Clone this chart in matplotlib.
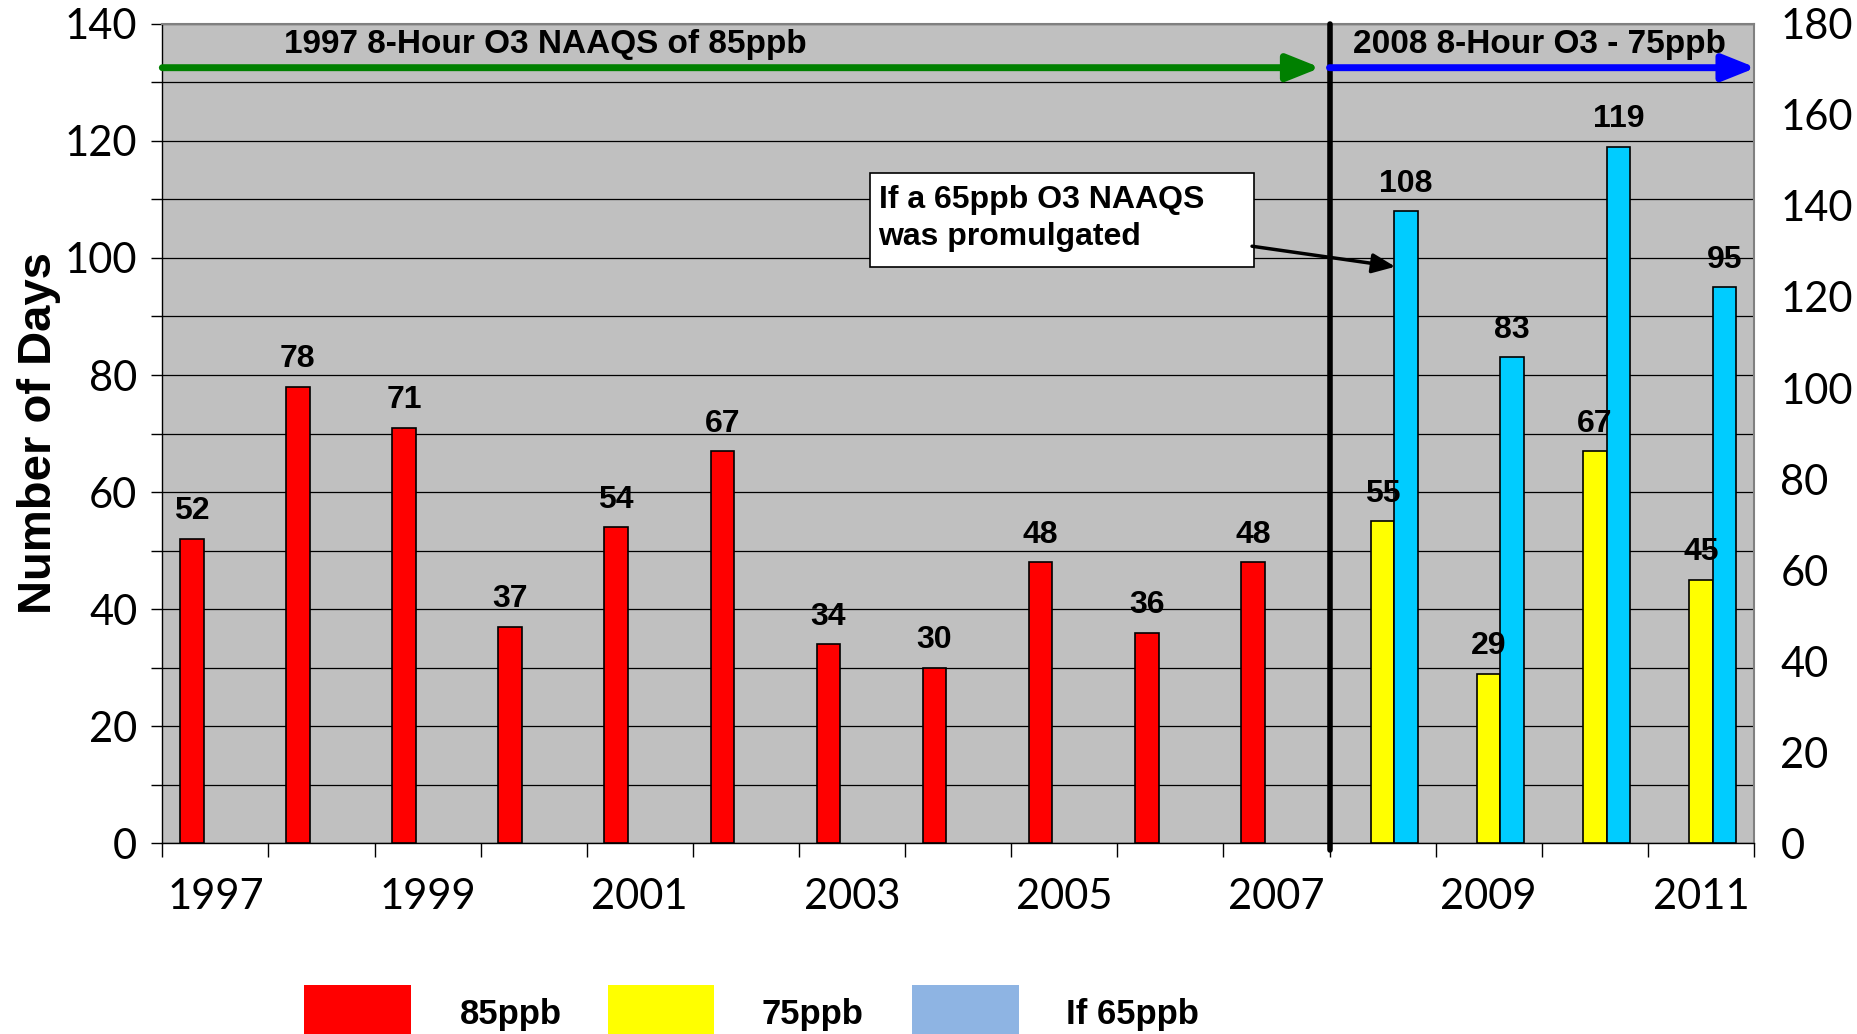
import matplotlib
matplotlib.use('Agg')
import matplotlib.pyplot as plt
from matplotlib.patches import Rectangle
import numpy as np

# ---------------- data ----------------
years = list(range(1997, 2012))
years_85 = [1997, 1998, 1999, 2000, 2001, 2002, 2003, 2004, 2005, 2006, 2007]
days_85 = [52, 78, 71, 37, 54, 67, 34, 30, 48, 36, 48]
years_new = [2008, 2009, 2010, 2011]
days_75 = [55, 29, 67, 45]
days_65 = [108, 83, 119, 95]
tick_labels = ['1997', '1999', '2001', '2003', '2005', '2007', '2009', '2011']
legend_labels = ['85ppb', '75ppb', 'If 65ppb']
title_1997 = '1997 8-Hour O3 NAAQS of 85ppb'
title_2008 = '2008 8-Hour O3 - 75ppb'
note_text = 'If a 65ppb O3 NAAQS\nwas promulgated'

# ---------------- style ----------------
BOLD = 'Liberation Sans'
TICKF = 'Lato'
c_red, c_yel, c_blu, c_leg_blu = '#FF0000', '#FFFF00', '#00CCFF', '#8EB4E3'

fig = plt.figure(figsize=(18.57, 10.34), dpi=100)
ax = fig.add_axes([0.0874, 0.1844, 0.8571, 0.7926])
ax.set_facecolor('#C0C0C0')
ax.set_xlim(-0.5, 14.5)
ax.set_ylim(0, 140)

w = 1 / 4.5
idx = {y: i for i, y in enumerate(years)}
x85 = np.array([idx[y] for y in years_85])
xn = np.array([idx[y] for y in years_new])

bars_r = ax.bar(x85 - w, days_85, width=w, color=c_red, edgecolor='black', lw=1.2, zorder=3)
bars_y = ax.bar(xn, days_75, width=w, color=c_yel, edgecolor='black', lw=1.2, zorder=3)
bars_b = ax.bar(xn + w, days_65, width=w, color=c_blu, edgecolor='black', lw=1.2, zorder=3)

for bars in (bars_r, bars_y, bars_b):
    for b in bars:
        h = b.get_height()
        ax.annotate(f'{h:g}', xy=(b.get_x() + b.get_width() / 2, h), xytext=(0, 9),
                    textcoords='offset points', ha='center', va='bottom',
                    fontsize=23, fontweight='bold', family=BOLD, zorder=5)

# grid / axes
ax.set_yticks(range(0, 141, 20))
ax.set_yticks(range(10, 140, 20), minor=True)
ax.grid(axis='y', which='both', color='black', lw=0.9, zorder=1)
ax.set_axisbelow(True)
ax.tick_params(axis='y', which='both', direction='out', length=8, width=1, pad=10)
ax.tick_params(axis='y', labelsize=30)
for lab in ax.get_yticklabels():
    lab.set_family(TICKF)

ax.set_xticks(np.arange(-0.5, 14.6, 1))
ax.set_xticklabels([])
ax.set_xticks([idx[int(t)] for t in tick_labels], minor=True)
ax.set_xticklabels(tick_labels, minor=True, fontsize=30, family=TICKF)
ax.tick_params(axis='x', which='major', direction='out', length=10, width=1)
ax.tick_params(axis='x', which='minor', length=0, pad=25)

for s in ('left', 'bottom'):
    ax.spines[s].set_color('black')
    ax.spines[s].set_linewidth(1)
for s in ('top', 'right'):
    ax.spines[s].set_color('#808080')
    ax.spines[s].set_linewidth(1.5)

ax2 = ax.twinx()
ax2.set_ylim(0, 180)
ax2.set_yticks(range(0, 181, 20))
ax2.tick_params(axis='y', length=0, pad=19, labelsize=30)
for lab in ax2.get_yticklabels():
    lab.set_family(TICKF)
for s in ax2.spines.values():
    s.set_visible(False)

fig.text(0.021, 0.581, 'Number of Days', rotation=90, ha='center', va='center',
         fontsize=34, fontweight='bold', family=BOLD)

# divider line
ax.axvline(10.5, ymin=-0.008, ymax=1, color='black', lw=4, clip_on=False,
           solid_capstyle='round', zorder=6)

# regime arrows
ax.annotate('', xy=(10.415, 132.5), xytext=(-0.5, 132.5), annotation_clip=False,
            arrowprops=dict(arrowstyle='-|>,head_length=1.0,head_width=0.4', color='#008000',
                            lw=5, mutation_scale=20, shrinkA=0, shrinkB=0), zorder=6)
ax.annotate('', xy=(14.52, 132.5), xytext=(10.5, 132.5), annotation_clip=False,
            arrowprops=dict(arrowstyle='-|>,head_length=1.0,head_width=0.4', color='#0000FF',
                            lw=5, mutation_scale=20, shrinkA=0, shrinkB=0), zorder=6)
ax.text(3.105, 136.4, title_1997, ha='center', va='center', fontsize=24,
        fontweight='bold', family=BOLD, zorder=7)
ax.text(12.48, 136.4, title_2008, ha='center', va='center', fontsize=24,
        fontweight='bold', family=BOLD, zorder=7)

# note box
ax.add_patch(Rectangle((6.17, 98.5), 3.62, 16.0, facecolor='white', edgecolor='black',
                       lw=1.2, zorder=7))
ax.text(6.25, 106.7, note_text, ha='left', va='center', fontsize=23, fontweight='bold',
        family=BOLD, linespacing=1.3, zorder=8)
ax.annotate('', xy=(11.12, 98.5), xytext=(9.77, 102.0),
            arrowprops=dict(arrowstyle='-|>,head_length=0.7,head_width=0.3', color='black',
                            lw=2.5, mutation_scale=20, shrinkA=0, shrinkB=0), zorder=8)

# legend (manual)
sw_x = [0.1639, 0.3272, 0.4911]
tx_x = [0.2474, 0.4100, 0.5740]
for col, sx, tx, lab in zip([c_red, c_yel, c_leg_blu], sw_x, tx_x, legend_labels):
    fig.patches.append(Rectangle((sx, -0.05), 0.0574, 0.097, transform=fig.transFigure,
                                 facecolor=col, edgecolor='none', figure=fig))
    fig.text(tx, 0.010, lab, ha='left', va='baseline', fontsize=25, fontweight='bold',
             family=BOLD)

fig.savefig('out.png', dpi=100)
